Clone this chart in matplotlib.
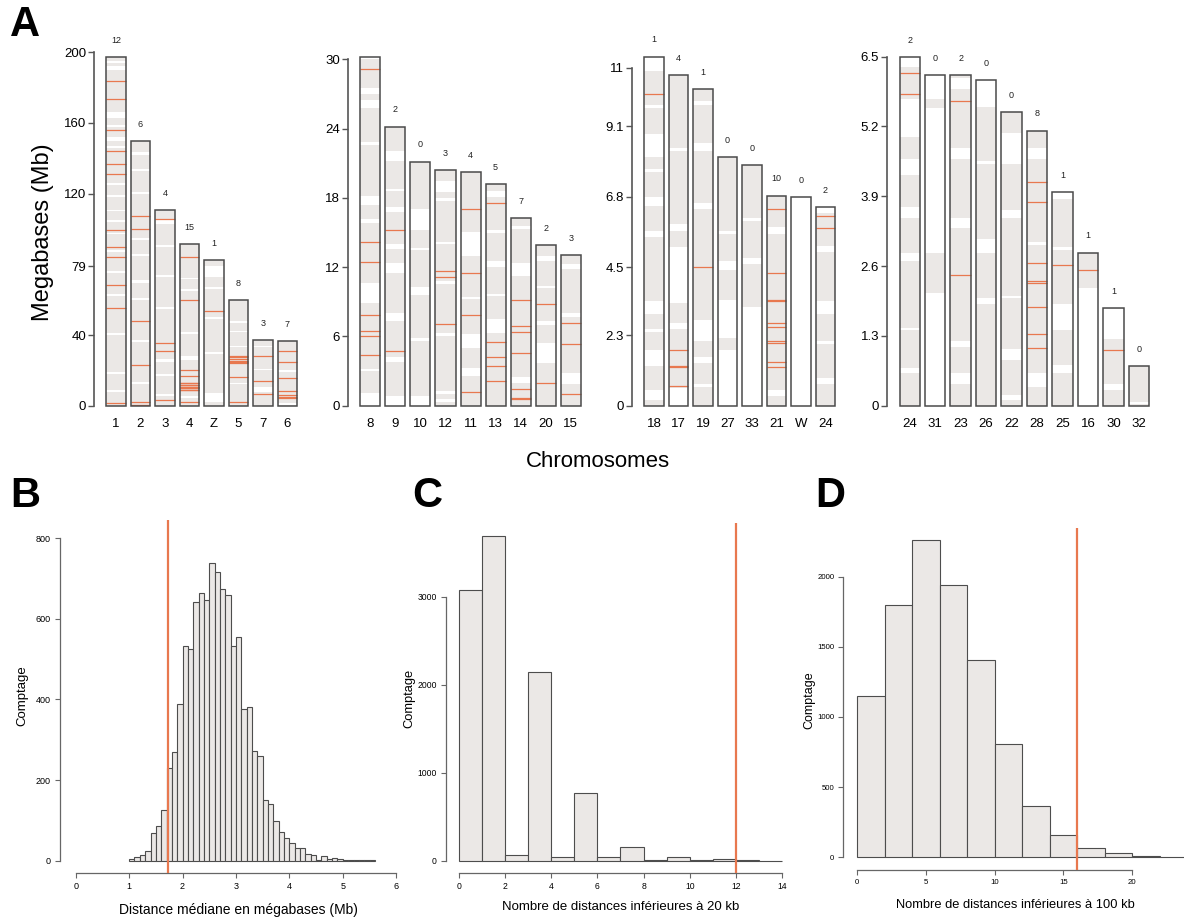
import matplotlib
matplotlib.use("Agg")
import matplotlib.pyplot as plt

plt.rcParams['font.family'] = ['Liberation Sans', 'DejaVu Sans']

W, H = 1184, 917
GREY = "#ebe8e6"
ORANGE = "#e8784f"
EDGE = "#4a4a4a"

# ---------------- panel A : chromosomes, lengths (Mb), hit counts, hit positions, white gaps
chr_a1 = ["1", "2", "3", "4", "Z", "5", "7", "6"]
len_a1 = [197.5, 149.7, 110.8, 91.4, 82.6, 59.9, 36.9, 36.6]
n_a1 = [12, 6, 4, 15, 1, 8, 3, 7]
hits_a1 = [
    [183.8, 173.8, 155.8, 144.2, 137.0, 131.3, 99.4, 90.0, 84.0, 68.3, 55.1, 1.3],
    [107.5, 100.0, 47.9, 23.2, 2.3, 0.4],
    [105.7, 35.3, 31.1, 3.2],
    [84.3, 59.8, 20.2, 17.0, 12.6, 12.6, 11.7, 11.7, 10.8, 10.8, 9.8, 9.8, 8.9, 8.9, 1.9],
    [53.6],
    [28.3, 27.4, 26.2, 25.5, 24.9, 24.0, 16.4, 1.9],
    [28.1, 13.8, 6.4],
    [30.8, 24.5, 15.7, 8.5, 6.0, 5.1, 4.5],
]
gaps_a1 = [
    [(194, 195), (190, 192), (163, 166), (158, 159), (150, 152), (146, 147), (125, 126),
     (118, 119), (110, 111), (104, 105), (97, 98), (87, 88), (75, 76), (62, 63),
     (40, 41), (18, 19), (8, 9)],
    [(142, 143.5), (133, 134), (120, 121), (94, 95), (85, 86), (69.5, 71), (60, 61),
     (36, 37), (12, 13.5)],
    [(103, 105), (90, 91), (73, 74), (55, 56), (25, 26.5), (17, 18), (5.5, 6.5)],
    [(71.5, 72.5), (65, 66), (40.5, 41.5), (26, 28), (4.5, 5.5)],
    [(73, 79), (66, 67), (49, 50), (29, 30.5), (2, 7)],
    [(47, 48), (41.5, 42.5), (33, 34), (12, 13)],
    [(8, 10.5), (33, 34), (20, 21)],
    [(0.5, 1.5), (19, 20)],
]
ticks_a1 = [0, 40, 79, 120, 160, 200]

chr_a2 = ["8", "9", "10", "12", "11", "13", "14", "20", "15"]
len_a2 = [30.23, 24.17, 21.14, 20.42, 20.21, 19.2, 16.23, 13.89, 13.08]
n_a2 = [7, 2, 0, 3, 4, 5, 7, 2, 3]
hits_a2 = [
    [29.14, 14.15, 12.42, 7.83, 6.47, 6.06, 4.42],
    [15.19, 4.76],
    [],
    [11.69, 11.15, 7.05],
    [17.0, 11.49, 7.85, 1.18],
    [17.53, 5.49, 4.24, 3.41, 2.14],
    [9.12, 6.87, 6.35, 4.59, 1.44, 0.69, 0.6],
    [8.81, 1.99],
    [7.19, 5.31, 1.01],
]
gaps_a2 = [
    [(27, 27.5), (25.8, 26.5), (22.6, 22.8), (17.4, 18.2), (15.8, 16.2), (8.9, 10.6),
     (3.0, 3.2), (0, 1.1)],
    [(21.2, 22.1), (18.6, 18.8), (16.8, 17.2), (13.6, 14), (11.5, 12.4), (7.3, 8.0),
     (3.8, 4.2), (0, 0.8)],
    [(15.2, 17), (13.5, 13.7), (9.6, 10.3), (5.6, 5.9), (0, 0.8)],
    [(18.5, 19.5), (17.7, 18.0), (14.0, 14.2), (10.5, 10.8), (6.0, 6.3), (1.0, 1.3),
     (0.3, 0.6)],
    [(13.0, 15.0), (9.2, 9.4), (5.0, 6.2), (2.6, 3.3)],
    [(6.3, 7.5), (18.1, 18.6), (15.0, 15.2), (12.0, 12.5), (9.5, 9.7)],
    [(11.2, 12.4), (15.3, 15.6), (2.0, 2.5)],
    [(3.7, 5.4), (12.5, 13.0), (10.2, 10.4), (7.0, 7.3)],
    [(1.9, 2.8), (7.7, 8.0), (11.8, 12.3)],
]
ticks_a2 = [0, 6, 12, 18, 24, 30]

chr_a3 = ["18", "17", "19", "27", "33", "21", "W", "24"]
len_a3 = [11.36, 10.75, 10.31, 8.08, 7.82, 6.84, 6.80, 6.47]
n_a3 = [1, 4, 1, 0, 0, 10, 0, 2]
hits_a3 = [
    [10.15],
    [1.81, 1.29, 1.25, 0.64],
    [4.52],
    [],
    [],
    [6.39, 4.31, 3.44, 3.40, 2.70, 2.57, 2.10, 2.03, 1.41, 1.25],
    [],
    [6.17, 5.79],
]
gaps_a3 = [
    [(10.9, 11.36), (9.7, 9.8), (8.1, 8.85), (7.6, 7.7), (6.5, 6.8), (5.5, 5.7),
     (3.0, 3.4), (2.4, 2.5), (1.3, 1.8), (0.2, 0.5)],
    [(8.3, 8.4), (5.7, 5.9), (3.33, 5.17), (2.5, 2.7), (0, 0.56)],
    [(9.8, 9.9), (8.3, 8.55), (6.4, 6.6), (2.1, 2.8), (1.4, 1.6), (0.6, 0.7)],
    [(0, 1.8), (2.2, 3.44), (4.4, 4.7), (5.6, 5.7)],
    [(0, 3.2), (4.6, 4.8), (6.0, 6.1)],
    [(0.3, 0.5), (5.6, 5.8)],
    [(0, 6.8)],
    [(6.26, 6.47), (5.0, 5.2), (3.0, 3.4), (2.0, 2.1), (0.7, 0.9)],
]
ticks_a3 = [0, 2.3, 4.5, 6.8, 9.1, 11]

chr_a4 = ["24", "31", "23", "26", "22", "28", "25", "16", "30", "32"]
len_a4 = [6.49, 6.16, 6.16, 6.06, 5.47, 5.12, 3.98, 2.85, 1.82, 0.73]
n_a4 = [2, 0, 2, 0, 0, 8, 1, 1, 1, 0]
hits_a4 = [
    [6.19, 5.81],
    [],
    [5.67, 2.43],
    [],
    [],
    [4.17, 3.79, 2.65, 2.32, 2.28, 1.84, 1.33, 1.07],
    [2.61],
    [2.52],
    [1.04],
    [],
]
gaps_a4 = [
    [(6.31, 6.49), (5.0, 5.7), (4.3, 4.6), (3.5, 3.7), (2.7, 2.85), (1.4, 1.45), (0.6, 0.7)],
    [(0, 2.1), (2.85, 5.55), (5.7, 6.16)],
    [(5.9, 6.1), (4.6, 4.8), (3.3, 3.5), (1.1, 1.2), (0.4, 0.6)],
    [(5.56, 6.06), (4.5, 4.55), (2.85, 3.1), (1.9, 2.0)],
    [(4.5, 5.07), (3.5, 3.65), (2.0, 2.05), (0.85, 1.05), (0.1, 0.2)],
    [(4.6, 4.8), (3.0, 3.05), (0.35, 0.6)],
    [(3.85, 3.98), (2.9, 2.95), (1.4, 1.9), (0.6, 0.75)],
    [(0, 2.2)],
    [(1.25, 1.8), (0.3, 0.4)],
    [(0.03, 0.07)],
]
ticks_a4 = [0, 1.3, 2.6, 3.9, 5.2, 6.5]

# ---------------- panel B : median distance histogram
b_start, b_width = 1.0, 0.1
b_counts = [3, 8, 13, 23, 69, 85, 126, 230, 269, 388, 532, 524, 641, 665, 646,
            739, 715, 673, 660, 532, 555, 376, 381, 273, 260, 151, 140, 98, 70, 56,
            44, 31, 32, 16, 13, 2, 11, 3, 6, 3, 1, 1, 1, 1, 1, 2]
b_obs = 1.72

# ---------------- panel C : number of distances < 20 kb
c_start, c_width = 0, 1
c_counts = [3072, 3686, 61, 2144, 38, 769, 38, 159, 11, 38, 4, 19, 3, 2]
c_obs = 12

# ---------------- panel D : number of distances < 100 kb
d_start, d_width = 0, 2
d_counts = [1150, 1798, 2259, 1943, 1404, 808, 366, 157, 67, 29, 7, 2]
d_obs = 16

fig = plt.figure(figsize=(W / 100, H / 100), dpi=100)


def axes_px(x0, x1, y_top, y_bot):
    return fig.add_axes([x0 / W, 1 - y_bot / H, (x1 - x0) / W, (y_bot - y_top) / H])


def ideogram(ax, names, lengths, counts, hits, gaps, ticks, xlim, ymax):
    ax.set_xlim(*xlim)
    ax.set_ylim(0, ymax)
    for i in range(len(names)):
        L = lengths[i]
        ax.bar(i, L, width=0.8, color=GREY, edgecolor='none', zorder=1)
        for s, e in gaps[i]:
            e = min(e, L)
            ax.bar(i, e - s, bottom=s, width=0.8, color='white', edgecolor='none', zorder=2)
        if hits[i]:
            ax.hlines(hits[i], i - 0.4, i + 0.4, color=ORANGE, lw=0.9, zorder=3)
        ax.bar(i, L, width=0.8, fill=False, edgecolor=EDGE, lw=1.1, zorder=4, clip_on=False)
        ax.annotate(str(counts[i]), (i, L), xytext=(0, 12), textcoords='offset points',
                    ha='center', va='center', fontsize=6.5, color='#222222')
    for s in ['top', 'right', 'bottom']:
        ax.spines[s].set_visible(False)
    ax.spines['left'].set_bounds(0, ticks[-1])
    ax.spines['left'].set_color('#555555')
    ax.spines['left'].set_linewidth(1.2)
    ax.set_yticks(ticks)
    ax.set_yticklabels([str(t) for t in ticks])
    ax.tick_params(axis='y', length=4.5, width=1, color='#555555', pad=1, labelsize=9.5)
    ax.set_xticks(range(len(names)))
    ax.set_xticklabels(names)
    ax.tick_params(axis='x', length=0, pad=9, labelsize=9.5)


a1 = axes_px(93.7, 302.1, 52.3, 405.7)
ideogram(a1, chr_a1, len_a1, n_a1, hits_a1, gaps_a1, ticks_a1, (-0.906, 7.6), 200)
a2 = axes_px(347.7, 585.9, 59.3, 405.7)
ideogram(a2, chr_a2, len_a2, n_a2, hits_a2, gaps_a2, ticks_a2, (-0.90, 8.6), 30)
a3 = axes_px(631.7, 840.1, 52.3, 405.7)
ideogram(a3, chr_a3, len_a3, n_a3, hits_a3, gaps_a3, ticks_a3, (-0.906, 7.6), 11.5)
a4 = axes_px(886.7, 1154.3, 56.5, 405.7)
ideogram(a4, chr_a4, len_a4, n_a4, hits_a4, gaps_a4, ticks_a4, (-0.903, 9.6), 6.5)

fig.text(43 / W, 1 - 232 / H, "Megabases (Mb)", rotation=90, fontsize=17,
         ha='center', va='center')
fig.text(598 / W, 1 - 462 / H, "Chromosomes", fontsize=16, ha='center', va='center')


def histo(ax, start, width, counts, obs, xlim, ylim, xticks, yticks, tsize):
    edges = [start + k * width for k in range(len(counts))]
    ax.bar(edges, counts, width=width, align='edge', color=GREY,
           edgecolor='#4d4d4d', lw=0.8, zorder=1)
    ax.axvline(obs, color=ORANGE, lw=1.6, zorder=3)
    ax.set_xlim(*xlim)
    ax.set_ylim(*ylim)
    for s in ['top', 'right']:
        ax.spines[s].set_visible(False)
    ax.spines['left'].set_bounds(yticks[0], yticks[-1])
    ax.spines['bottom'].set_bounds(xticks[0], xticks[-1])
    for s in ['left', 'bottom']:
        ax.spines[s].set_color('#666666')
        ax.spines[s].set_linewidth(0.9)
    ax.set_xticks(xticks)
    ax.set_yticks(yticks)
    ax.tick_params(length=3.5, width=0.8, color='#666666', labelsize=tsize, pad=3)


b = axes_px(60, 401.6, 520, 873.3)
histo(b, b_start, b_width, b_counts, b_obs, (-0.294, 6.1), (-31.3, 845),
      [0, 1, 2, 3, 4, 5, 6], [0, 200, 400, 600, 800], 6.5)
c = axes_px(445.7, 786.9, 523, 873)
histo(c, c_start, c_width, c_counts, c_obs, (-0.5625, 14.2), (-140, 3837),
      [0, 2, 4, 6, 8, 10, 12, 14], [0, 1000, 2000, 3000], 6.2)
d = axes_px(843.3, 1187.4, 527.7, 870)
histo(d, d_start, d_width, d_counts, d_obs, (-0.995, 24), (-90.5, 2349),
      [0, 5, 10, 15, 20], [0, 500, 1000, 1500, 2000], 5.6)

fig.text(22.7 / W, 1 - 696 / H, "Comptage", rotation=90, fontsize=9.5, ha='center', va='center')
fig.text(409 / W, 1 - 698 / H, "Comptage", rotation=90, fontsize=9.3, ha='center', va='center')
fig.text(809 / W, 1 - 700 / H, "Comptage", rotation=90, fontsize=9, ha='center', va='center')
fig.text(238 / W, 1 - 910 / H, "Distance médiane en mégabases (Mb)", fontsize=10,
         ha='center', va='center')
fig.text(621 / W, 1 - 907 / H, "Nombre de distances inférieures à 20 kb", fontsize=9.5,
         ha='center', va='center')
fig.text(1015 / W, 1 - 905 / H, "Nombre de distances inférieures à 100 kb", fontsize=9.3,
         ha='center', va='center')

for letter, x, y in [("A", 25, 25), ("B", 25, 496), ("C", 427, 496), ("D", 830, 496)]:
    fig.text(x / W, 1 - y / H, letter, fontsize=30, fontweight='bold', ha='center', va='center')

fig.savefig("out.png", dpi=100)
